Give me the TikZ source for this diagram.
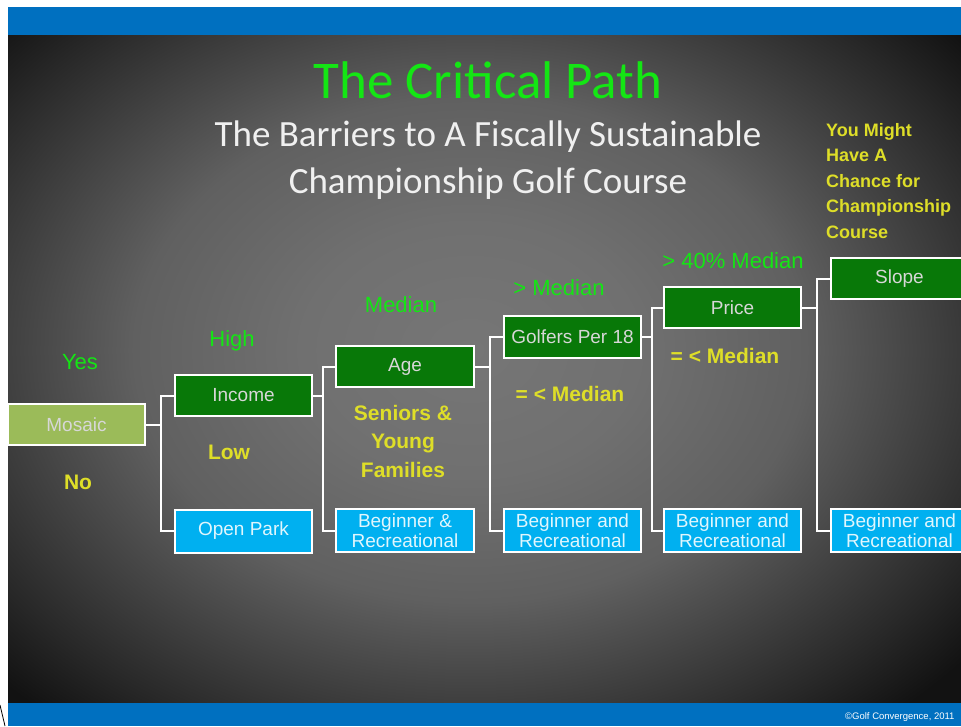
\documentclass[tikz,border=0pt]{standalone}
\usepackage{fontspec}
\setmainfont{Liberation Sans}
\newfontfamily\headfont{Carlito}

\definecolor{barblue}{RGB}{0,112,192}
\definecolor{stepgreen}{RGB}{8,120,8}
\definecolor{stepblue}{RGB}{0,176,240}
\definecolor{startgreen}{RGB}{155,187,89}
\definecolor{yesgreen}{RGB}{20,230,20}
\definecolor{noyellow}{RGB}{222,222,40}
\definecolor{boxtext}{RGB}{215,215,215}
\definecolor{shadeA}{RGB}{118,118,118}
\definecolor{shadeB}{RGB}{112,112,112}
\definecolor{shadeC}{RGB}{96,96,96}
\definecolor{shadeD}{RGB}{68,68,68}
\definecolor{shadeE}{RGB}{40,40,40}
\definecolor{shadeF}{RGB}{18,18,18}

% 25bp lands on the edge of the shaded rectangle
\pgfdeclareradialshading{panelshade}{\pgfpoint{0bp}{0bp}}{%
  color(0bp)=(shadeA); color(7.5bp)=(shadeB); color(15bp)=(shadeC);
  color(20bp)=(shadeD); color(25bp)=(shadeE); color(28.75bp)=(shadeF);
  color(50bp)=(shadeF)}

\tikzset{
  stepbox/.style={draw=white, line width=2pt, fill=stepgreen, text=boxtext,
    minimum width=137pt, minimum height=41pt, inner sep=0pt, align=center,
    font=\fontsize{19}{20}\selectfont},
  startbox/.style={stepbox, fill=startgreen},
  endbox/.style={stepbox, fill=stepblue, minimum height=43pt, text=white!88!stepblue},
  link/.style={draw=white, line width=2pt},
  yeslabel/.style={text=yesgreen, font=\fontsize{22}{24}\selectfont},
  nolabel/.style={text=noyellow, align=center, font=\bfseries\fontsize{21}{28.5}\selectfont},
}

\begin{document}
\begin{tikzpicture}[x=1pt, y=-1pt]
  \useasboundingbox (0,0) rectangle (961,726);
  \clip (0,0) rectangle (961,726);

  % slide frame
  \fill[white] (0,0) rectangle (961,726);
  \begin{scope}
    \clip (8,35) rectangle (961,703);
    \shade[shading=panelshade] (-90,-70) rectangle (1030,770);
  \end{scope}
  \fill[barblue] (8,7) rectangle (961,35);
  \fill[barblue] (8,703) rectangle (961,726);
  \draw[black, line width=0.8pt] (0,705) -- (5,726);
  \node[anchor=east, text=white, font=\fontsize{9.5}{10}\selectfont] (credit) at (958,717) {©Golf Convergence, 2011};

  % headings
  \node[text=yesgreen, font=\headfont\fontsize{53}{56}\selectfont] (title) at (488,80) {The Critical Path};
  \node[text=white!94!black, align=center, font=\headfont\fontsize{37}{47}\selectfont] (subtitle) at (488,160) {The Barriers to A Fiscally Sustainable\\Championship Golf Course};

  % decision steps
  \node[startbox] (mosaic) at (76.5,424.5) {Mosaic};
  \node[stepbox] (income) at (243.5,395.5) {Income};
  \node[endbox] (openpark) at (243.5,531) {Open Park};
  \node[stepbox, minimum width=138pt] (age) at (405,366.5) {Age};
  \node[endbox, minimum width=138pt] (recA) at (405,530.5) {Beginner \&\\Recreational};
  \node[stepbox, minimum height=42pt] (golfers) at (572.5,337) {Golfers Per 18};
  \node[endbox] (recB) at (572.5,530.5) {Beginner and\\Recreational};
  \node[stepbox] (price) at (732.5,307.5) {Price};
  \node[endbox] (recC) at (732.5,530.5) {Beginner and\\Recreational};
  \node[stepbox] (slope) at (899.5,278.5) {Slope};
  \node[endbox] (recD) at (899.5,530.5) {Beginner and\\Recreational};

  % branches
  \draw[link] (mosaic.east) -- ++(15,0) |- (income.west);
  \draw[link] (mosaic.east) -- ++(15,0) |- (openpark.west);
  \draw[link] (income.east) -- ++(10,0) |- (age.west);
  \draw[link] (income.east) -- ++(10,0) |- (recA.west);
  \draw[link] (age.east) -- ++(15,0) |- (golfers.west);
  \draw[link] (age.east) -- ++(15,0) |- (recB.west);
  \draw[link] (golfers.east) -- ++(10,0) |- (price.west);
  \draw[link] (golfers.east) -- ++(10,0) |- (recC.west);
  \draw[link] (price.east) -- ++(15,0) |- (slope.west);
  \draw[link] (price.east) -- ++(15,0) |- (recD.west);

  % branch labels
  \node[yeslabel] (yes) at (80,362) {Yes};
  \node[nolabel] (no) at (78,482) {No};
  \node[yeslabel] (high) at (232,341) {High};
  \node[nolabel] (low) at (229,452) {Low};
  \node[yeslabel] (median) at (401,305) {Median};
  \node[nolabel] (seniors) at (403,441) {Seniors \&\\Young\\Families};
  \node[yeslabel] (overmedian) at (559,288) {> Median};
  \node[nolabel] (undermedianA) at (570,394) {= < Median};
  \node[yeslabel] (overforty) at (733,261) {> 40\% Median};
  \node[nolabel] (undermedianB) at (725,356) {= < Median};
  \node[anchor=north west, inner sep=0pt, text=noyellow, align=left,
    font=\bfseries\fontsize{18}{25.5}\selectfont] (chance) at (826,123)
    {You Might\\Have A\\Chance for\\Championship\\Course};
\end{tikzpicture}
\end{document}
